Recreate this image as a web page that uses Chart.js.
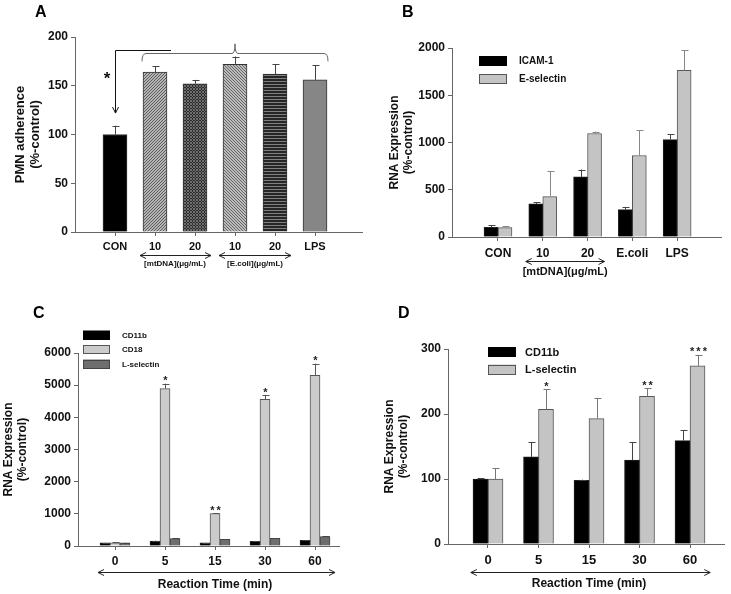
<!DOCTYPE html>
<html>
<head>
<meta charset="utf-8">
<script src="https://cdn.jsdelivr.net/npm/chart.js@4.4.0/dist/chart.umd.min.js"></script>
<style>
  body { margin: 0; background: #fff; }
  #fig { position: relative; width: 731px; height: 594px; }
  #fig canvas { position: absolute; }
</style>
</head>
<body>
<div id="fig">
  <canvas id="panelA" width="365" height="295" style="left:0;top:0"></canvas>
  <canvas id="panelB" width="366" height="295" style="left:365px;top:0"></canvas>
  <canvas id="panelC" width="365" height="299" style="left:0;top:295px"></canvas>
  <canvas id="panelD" width="366" height="299" style="left:365px;top:295px"></canvas>
</div>
<script>
// ---- A: PMN adherence ----
const adhesionLabels = ['CON', '10', '20', '10', '20', 'LPS'];
const adhesionValues = [100, 164, 152, 172, 162, 156];
const adhesionErrors = [9, 6, 4, 8, 10, 15];
const yTicksA = [0, 50, 100, 150, 200];

// ---- B: endothelial RNA ----
const endoLabels = ['CON', '10', '20', 'E.coli', 'LPS'];
const icamValues = [103, 350, 636, 290, 1031];
const icamErrors = [21, 21, 78, 25, 57];
const eselValues = [100, 428, 1095, 862, 1763];
const eselErrors = [13, 271, 21, 268, 212];
const yTicksB = [0, 500, 1000, 1500, 2000];

// ---- C: PMN RNA over time ----
const timeLabels = ['0', '5', '15', '30', '60'];
const cd11bC = [100, 155, 100, 145, 175];
const cd11bCErr = [5, 10, 5, 10, 10];
const cd18C = [100, 4891, 1010, 4560, 5305];
const cd18CErr = [10, 155, 15, 125, 362];
const lselC = [100, 227, 207, 237, 289];
const lselCErr = [5, 12, 12, 8, 10];
const starsC = ['', '*', '**', '*', '*'];
const yTicksC = [0, 1000, 2000, 3000, 4000, 5000, 6000];

// ---- D: surface expression over time ----
const cd11bD = [100, 134, 98, 129, 159];
const cd11bDErr = [1, 23, 1, 28, 16];
const lselD = [100, 207, 193, 227, 274];
const lselDErr = [17, 31, 31, 13, 17];
const starsD = ['', '*', '', '**', '***'];
const yTicksD = [0, 100, 200, 300];

const FONT = "'Liberation Sans', Arial, sans-serif";
Chart.defaults.font.family = FONT;
Chart.defaults.font.weight = 'bold';
Chart.defaults.color = '#111';

// tiny pixel tiles for the hatched bars in A
function tile(bg, fg, w, h, on) {
  const c = document.createElement('canvas');
  c.width = w; c.height = h;
  const g = c.getContext('2d');
  g.fillStyle = bg; g.fillRect(0, 0, w, h);
  g.fillStyle = fg;
  for (let y = 0; y < h; y++) for (let x = 0; x < w; x++) if (on(x, y)) g.fillRect(x, y, 1, 1);
  return g.createPattern(c, 'repeat');
}
const patA = [
  '#000000',
  tile('#b4b4b4', '#5e5e5e', 3, 3, (x, y) => (x + y) % 3 === 0),
  tile('#2c2c2c', '#6e6e6e', 3, 3, (x, y) => (x + y) % 3 === 0 || (x - y + 3) % 3 === 0),
  tile('#bcbcbc', '#666666', 3, 3, (x, y) => (x - y + 3) % 3 === 0),
  tile('#262626', '#808080', 3, 3, (x, y) => y % 3 === 0),
  '#868686'
];

const toXY = vals => vals.map((v, i) => ({ x: i, y: v }));

// error bars + significance stars
const errorBars = {
  id: 'errorBars',
  afterDatasetsDraw(chart) {
    const ctx = chart.ctx, ys = chart.scales.y;
    chart.data.datasets.forEach((ds, i) => {
      if (!ds.errors) return;
      chart.getDatasetMeta(i).data.forEach((bar, j) => {
        const top = ys.getPixelForValue(ds.data[j].y + ds.errors[j]);
        const x = Math.round(bar.x) + 0.5;
        ctx.save();
        ctx.strokeStyle = ds.errorColor || '#555';
        ctx.lineWidth = 1;
        ctx.beginPath();
        ctx.moveTo(x, bar.y); ctx.lineTo(x, top);
        ctx.moveTo(x - 3, Math.round(top) + 0.5); ctx.lineTo(x + 4, Math.round(top) + 0.5);
        ctx.stroke();
        if (ds.stars && ds.stars[j]) {
          ctx.fillStyle = '#222';
          ctx.font = 'bold 11px ' + FONT;
          ctx.letterSpacing = '2px';
          ctx.textAlign = 'center';
          ctx.textBaseline = 'bottom';
          ctx.fillText(ds.stars[j], x + 1, top + 3);
        }
        ctx.restore();
      });
    });
  }
};
Chart.register(errorBars);

function xAxis(labels, min, max, size, h, pad) {
  return {
    type: 'linear', min, max, offset: false,
    grid: { display: true, drawOnChartArea: false, offset: false, tickLength: 4, color: '#666', tickColor: '#666' },
    border: { color: '#666' },
    afterBuildTicks: s => { s.ticks = labels.map((_, i) => ({ value: i })); },
    afterFit: s => { s.height = h; },
    ticks: { callback: v => labels[v], autoSkip: false, maxRotation: 0, padding: pad, color: '#111', font: { size, weight: 'bold' } }
  };
}

function yAxis(tickVals, title, w, titleSize, titlePad) {
  return {
    min: tickVals[0], max: tickVals[tickVals.length - 1],
    afterBuildTicks: s => { s.ticks = tickVals.map(v => ({ value: v })); },
    afterFit: s => { s.width = w; },
    grid: { drawOnChartArea: false, tickLength: 4, color: '#666', tickColor: '#666' },
    border: { color: '#666' },
    ticks: { callback: v => String(v), padding: 3, color: '#111', font: { size: 12, weight: 'bold' } },
    title: { display: true, text: title, color: '#111', font: { size: titleSize, weight: 'bold', lineHeight: 1.15 }, padding: { top: titlePad, bottom: 0 } }
  };
}

function baseOptions(padding, x, y) {
  return {
    responsive: false, animation: false, events: [],
    layout: { padding },
    plugins: { legend: { display: false }, tooltip: { enabled: false } },
    scales: { x, y }
  };
}

function dblArrow(ctx, x1, x2, y) {
  y = Math.round(y) + 0.5;
  ctx.beginPath();
  ctx.moveTo(x1, y); ctx.lineTo(x2, y);
  ctx.moveTo(x1 + 6, y - 3); ctx.lineTo(x1, y); ctx.lineTo(x1 + 6, y + 3);
  ctx.moveTo(x2 - 6, y - 3); ctx.lineTo(x2, y); ctx.lineTo(x2 - 6, y + 3);
  ctx.stroke();
}

function panelLetter(ctx, t, x, y) {
  ctx.fillStyle = '#000';
  ctx.font = 'bold 16px ' + FONT;
  ctx.textAlign = 'left';
  ctx.textBaseline = 'alphabetic';
  ctx.fillText(t, x, y);
}

function legendBoxes(ctx, items, x, y, bw, bh, step, tx, size) {
  items.forEach((it, k) => {
    const cy = y + k * step;
    ctx.fillStyle = it.color;
    ctx.fillRect(x, cy - bh / 2, bw, bh);
    ctx.strokeStyle = it.border;
    ctx.lineWidth = 1;
    ctx.strokeRect(x + 0.5, Math.round(cy - bh / 2) + 0.5, bw - 1, bh - 1);
    ctx.fillStyle = '#111';
    ctx.font = 'bold ' + size + 'px ' + FONT;
    ctx.textAlign = 'left';
    ctx.textBaseline = 'middle';
    ctx.fillText(it.label, tx, cy + 0.5);
  });
}

// ---------------- A ----------------
const annotA = {
  id: 'annotA',
  afterDraw(chart) {
    const { ctx, chartArea: ca } = chart;
    const px = v => chart.scales.x.getPixelForValue(v);
    const py = v => chart.scales.y.getPixelForValue(v);
    ctx.save();
    panelLetter(ctx, 'A', 35, 17);
    ctx.lineWidth = 1;
    // bracket over treated groups
    ctx.strokeStyle = '#666';
    const bl = px(0.675), br = px(5.325), by = Math.round(py(184)) + 0.5, be = py(175);
    ctx.beginPath();
    ctx.moveTo(bl, be); ctx.quadraticCurveTo(bl, by, bl + 4, by);
    ctx.lineTo(px(3) - 3, by); ctx.quadraticCurveTo(px(3), by, px(3), py(193));
    ctx.moveTo(px(3), py(193)); ctx.quadraticCurveTo(px(3), by, px(3) + 3, by);
    ctx.lineTo(br - 4, by); ctx.quadraticCurveTo(br, by, br, be);
    ctx.stroke();
    // arrow down to control
    ctx.strokeStyle = '#111';
    const ay = Math.round(py(187)) + 0.5, ax = Math.round(px(0)) + 0.5, tipY = py(122);
    ctx.beginPath();
    ctx.moveTo(px(1.4), ay); ctx.lineTo(ax, ay); ctx.lineTo(ax, tipY);
    ctx.moveTo(ax - 3, tipY - 6); ctx.lineTo(ax, tipY); ctx.lineTo(ax + 3, tipY - 6);
    ctx.stroke();
    ctx.fillStyle = '#111';
    ctx.font = 'bold 17px ' + FONT;
    ctx.textAlign = 'center';
    ctx.textBaseline = 'middle';
    ctx.fillText('*', px(-0.2), py(157));
    // dose arrows under the axis
    ctx.strokeStyle = '#222';
    dblArrow(ctx, px(0.625), px(2.4), ca.bottom + 23);
    dblArrow(ctx, px(2.6), px(4.4), ca.bottom + 23);
    ctx.font = 'bold 8px ' + FONT;
    ctx.fillText('[mtDNA](\u03bcg/mL)', px(1.5), ca.bottom + 32);
    ctx.fillText('[E.coli](\u03bcg/mL)', px(3.5), ca.bottom + 32);
    ctx.restore();
  }
};

new Chart(document.getElementById('panelA'), {
  type: 'bar',
  data: {
    datasets: [{
      data: toXY(adhesionValues), errors: adhesionErrors, errorColor: '#444',
      backgroundColor: patA, borderColor: '#333', borderWidth: 1, barThickness: 24
    }]
  },
  options: baseOptions({ left: 10, top: 37, right: 3, bottom: 38 },
    xAxis(adhesionLabels, -1, 6.175, 11, 25, 4),
    yAxis(yTicksA, ['PMN adherence', '(%-control)'], 65, 13, 3)),
  plugins: [annotA]
});

// ---------------- B ----------------
const annotB = {
  id: 'annotB',
  afterDraw(chart) {
    const { ctx, chartArea: ca } = chart;
    const px = v => chart.scales.x.getPixelForValue(v);
    ctx.save();
    panelLetter(ctx, 'B', 37, 17);
    legendBoxes(ctx, [
      { label: 'ICAM-1', color: '#000', border: '#000' },
      { label: 'E-selectin', color: '#c4c4c4', border: '#555' }
    ], ca.left + 27, ca.top + 13, 28, 10, 18, ca.left + 67, 10);
    ctx.strokeStyle = '#222';
    ctx.lineWidth = 1;
    dblArrow(ctx, px(0.62), px(2.38), ca.bottom + 24);
    ctx.fillStyle = '#111';
    ctx.font = 'bold 11px ' + FONT;
    ctx.textAlign = 'center';
    ctx.textBaseline = 'middle';
    ctx.fillText('[mtDNA](\u03bcg/mL)', px(1.5), ca.bottom + 35);
    ctx.restore();
  }
};

new Chart(document.getElementById('panelB'), {
  type: 'bar',
  data: {
    datasets: [
      { data: toXY(icamValues), errors: icamErrors, errorColor: '#444',
        backgroundColor: '#000', borderColor: '#222', borderWidth: 1, barThickness: 14 },
      { data: toXY(eselValues), errors: eselErrors, errorColor: '#888',
        backgroundColor: '#c4c4c4', borderColor: '#555', borderWidth: 1, barThickness: 14 }
    ]
  },
  options: baseOptions({ left: 19, top: 48, right: 10, bottom: 33 },
    xAxis(endoLabels, -1.027, 4.98, 12, 25, 5),
    yAxis(yTicksB, ['RNA Expression', '(%-control)'], 68, 12, 4)),
  plugins: [annotB]
});

// ---------------- C ----------------
const annotC = {
  id: 'annotC',
  afterDraw(chart) {
    const { ctx, chartArea: ca } = chart;
    const px = v => chart.scales.x.getPixelForValue(v);
    ctx.save();
    panelLetter(ctx, 'C', 33, 23);
    legendBoxes(ctx, [
      { label: 'CD11b', color: '#000', border: '#000' },
      { label: 'CD18', color: '#cbcbcb', border: '#555' },
      { label: 'L-selectin', color: '#6e6e6e', border: '#444' }
    ], ca.left + 5, ca.top - 18, 27, 9, 14.5, ca.left + 44, 8);
    ctx.strokeStyle = '#222';
    ctx.lineWidth = 1;
    dblArrow(ctx, px(-0.34), px(4.4), ca.bottom + 26);
    ctx.fillStyle = '#111';
    ctx.font = 'bold 12px ' + FONT;
    ctx.textAlign = 'center';
    ctx.textBaseline = 'middle';
    ctx.fillText('Reaction Time (min)', px(2), ca.bottom + 39);
    ctx.restore();
  }
};

new Chart(document.getElementById('panelC'), {
  type: 'bar',
  data: {
    datasets: [
      { data: toXY(cd11bC), errors: cd11bCErr, errorColor: '#444',
        backgroundColor: '#000', borderColor: '#222', borderWidth: 1, barThickness: 10 },
      { data: toXY(cd18C), errors: cd18CErr, errorColor: '#555', stars: starsC,
        backgroundColor: '#cbcbcb', borderColor: '#555', borderWidth: 1, barThickness: 10 },
      { data: toXY(lselC), errors: lselCErr, errorColor: '#444',
        backgroundColor: '#6e6e6e', borderColor: '#444', borderWidth: 1, barThickness: 10 }
    ]
  },
  options: baseOptions({ left: 0, top: 58, right: 26, bottom: 26 },
    xAxis(timeLabels, -0.74, 4.48, 12, 22, 4),
    yAxis(yTicksC, ['RNA Expression', '(%-control)'], 78, 12, 2)),
  plugins: [annotC]
});

// ---------------- D ----------------
const annotD = {
  id: 'annotD',
  afterDraw(chart) {
    const { ctx, chartArea: ca } = chart;
    const px = v => chart.scales.x.getPixelForValue(v);
    ctx.save();
    panelLetter(ctx, 'D', 33, 23);
    legendBoxes(ctx, [
      { label: 'CD11b', color: '#000', border: '#000' },
      { label: 'L-selectin', color: '#c4c4c4', border: '#555' }
    ], ca.left + 40, ca.top + 3, 28, 10, 17.5, ca.left + 77, 11);
    ctx.strokeStyle = '#222';
    ctx.lineWidth = 1;
    dblArrow(ctx, px(-0.34), px(4.4), ca.bottom + 28);
    ctx.fillStyle = '#111';
    ctx.font = 'bold 12px ' + FONT;
    ctx.textAlign = 'center';
    ctx.textBaseline = 'middle';
    ctx.fillText('Reaction Time (min)', px(2), ca.bottom + 40);
    ctx.restore();
  }
};

new Chart(document.getElementById('panelD'), {
  type: 'bar',
  data: {
    datasets: [
      { data: toXY(cd11bD), errors: cd11bDErr, errorColor: '#444',
        backgroundColor: '#000', borderColor: '#222', borderWidth: 1, barThickness: 15 },
      { data: toXY(lselD), errors: lselDErr, errorColor: '#777', stars: starsD,
        backgroundColor: '#c4c4c4', borderColor: '#555', borderWidth: 1, barThickness: 15 }
    ]
  },
  options: baseOptions({ left: 14, top: 54, right: 7, bottom: 28 },
    xAxis(timeLabels, -0.792, 4.673, 13, 22, 5),
    yAxis(yTicksD, ['RNA Expression', '(%-control)'], 69, 12, 4)),
  plugins: [annotD]
});
</script>
</body>
</html>
